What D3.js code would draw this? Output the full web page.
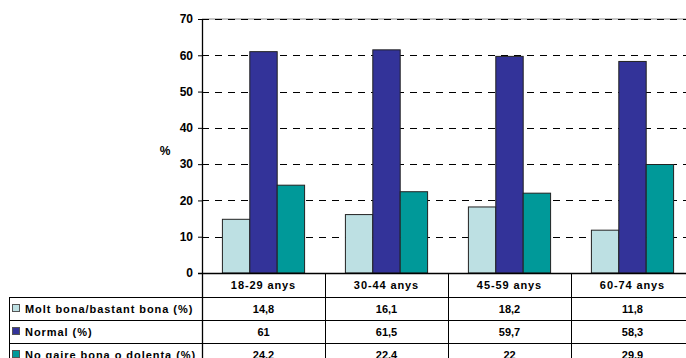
<!DOCTYPE html>
<html>
<head>
<meta charset="utf-8">
<script src="https://cdn.jsdelivr.net/npm/d3@7"></script>
<style>
  html, body { margin: 0; padding: 0; background: #fff; }
  svg { display: block; }
  text { font-family: "Liberation Sans", Arial, sans-serif; font-weight: bold; font-size: 11px; fill: #000; }
</style>
</head>
<body>
<script>
// Age groups and self-rated health shares (%)
const categories = ["18-29 anys", "30-44 anys", "45-59 anys", "60-74 anys"];
const seriesNames = ["Molt bona/bastant bona (%)", "Normal (%)", "No gaire bona o dolenta (%)"];
const goodValues = [14.8, 16.1, 18.2, 11.8];
const normalValues = [61, 61.5, 59.7, 58.3];
const poorValues = [24.2, 22.4, 22, 29.9];
const valueLabels = [
  ["14,8", "16,1", "18,2", "11,8"],
  ["61", "61,5", "59,7", "58,3"],
  ["24,2", "22,4", "22", "29,9"]
];
const yTicks = [0, 10, 20, 30, 40, 50, 60, 70];
const colors = ["#bde0e3", "#333399", "#009999"];

const seriesValues = [goodValues, normalValues, poorValues];

const W = 686, H = 358;
const svg = d3.select("body").append("svg").attr("width", W).attr("height", H);

const plotLeft = 202, plotRight = 694, plotTop = 19, plotBottom = 273;
const y = d3.scaleLinear().domain([0, 70]).range([plotBottom, plotTop]);
const x = d3.scaleBand().domain(categories).range([plotLeft, plotRight]).padding(0);
const xInner = d3.scaleBand().domain(seriesNames).range([0, x.bandwidth()])
  .paddingInner(0).paddingOuter(0.745);

// Plot frame top edge
svg.append("line")
  .attr("x1", plotLeft).attr("x2", W).attr("y1", y(70)).attr("y2", y(70))
  .attr("stroke", "#8c8c8c").attr("stroke-width", 1.2);

// Dashed gridlines
svg.append("g").selectAll("line")
  .data(yTicks.filter(d => d > 0))
  .join("line")
  .attr("x1", plotLeft).attr("x2", W)
  .attr("y1", d => Math.round(y(d)) + 0.5).attr("y2", d => Math.round(y(d)) + 0.5)
  .attr("stroke", "#000").attr("stroke-width", 1)
  .attr("stroke-dasharray", "7,6");

// Bars
const groups = svg.append("g").selectAll("g")
  .data(categories)
  .join("g")
  .attr("transform", d => `translate(${x(d)},0)`);

groups.selectAll("rect")
  .data((c, i) => seriesNames.map((s, k) => ({ s, k, v: seriesValues[k][i] })))
  .join("rect")
  .attr("x", d => xInner(d.s))
  .attr("width", xInner.bandwidth())
  .attr("y", d => y(d.v))
  .attr("height", d => y(0) - y(d.v))
  .attr("fill", d => colors[d.k])
  .attr("stroke", "#222")
  .attr("stroke-width", 1);

// Y axis
const yAxis = d3.axisLeft(y).tickValues(yTicks).tickSize(4).tickPadding(5);
const gy = svg.append("g").attr("transform", `translate(${plotLeft},0)`).call(yAxis);
gy.select(".domain").remove();
gy.selectAll(".tick line").attr("stroke", "#000");
gy.selectAll(".tick text")
  .style("font-family", '"Liberation Sans", Arial, sans-serif')
  .style("font-weight", "bold").style("font-size", "12px");

// Axis line continues down as the table's first column border
svg.append("line")
  .attr("x1", plotLeft + 0.5).attr("x2", plotLeft + 0.5)
  .attr("y1", plotTop).attr("y2", H)
  .attr("stroke", "#000").attr("stroke-width", 1.3);

// Baseline
svg.append("line")
  .attr("x1", plotLeft - 4).attr("x2", W)
  .attr("y1", y(0) + 0.5).attr("y2", y(0) + 0.5)
  .attr("stroke", "#000").attr("stroke-width", 1.3);

// Y title
svg.append("text").attr("x", 165).attr("y", 155).attr("text-anchor", "middle")
  .style("font-size", "12px").text("%");

// Data table below the plot
const rowLines = [297, 320, 343];
const table = svg.append("g");
categories.forEach((c, i) => {
  const xr = x(c) + x.bandwidth();
  table.append("line")
    .attr("x1", xr + 0.5).attr("x2", xr + 0.5).attr("y1", plotBottom).attr("y2", H)
    .attr("stroke", "#000").attr("stroke-width", 1);
});
rowLines.forEach(r => {
  table.append("line")
    .attr("x1", 9).attr("x2", W).attr("y1", r + 0.5).attr("y2", r + 0.5)
    .attr("stroke", "#000").attr("stroke-width", 1);
});
table.append("line")
  .attr("x1", 9.5).attr("x2", 9.5).attr("y1", rowLines[0]).attr("y2", H)
  .attr("stroke", "#000").attr("stroke-width", 1);

// Column headers
table.selectAll("text.head")
  .data(categories)
  .join("text")
  .attr("class", "head")
  .attr("x", d => x(d) + x.bandwidth() / 2)
  .attr("y", 289)
  .attr("text-anchor", "middle")
  .style("letter-spacing", "0.9px")
  .text(d => d);

// Row headers with colour keys
const rowCenters = [309, 332, 355];
seriesNames.forEach((s, k) => {
  table.append("rect")
    .attr("x", 12.5).attr("y", rowCenters[k] - 4.5)
    .attr("width", 7).attr("height", 7)
    .attr("fill", colors[k]).attr("stroke", "#555").attr("stroke-width", 1);
  table.append("text")
    .attr("x", 25).attr("y", rowCenters[k] + 4)
    .style("letter-spacing", "0.95px")
    .text(s);
  categories.forEach((c, i) => {
    table.append("text")
      .attr("x", x(c) + x.bandwidth() / 2)
      .attr("y", rowCenters[k] + 4)
      .attr("text-anchor", "middle")
      .text(valueLabels[k][i]);
  });
});
</script>
</body>
</html>
